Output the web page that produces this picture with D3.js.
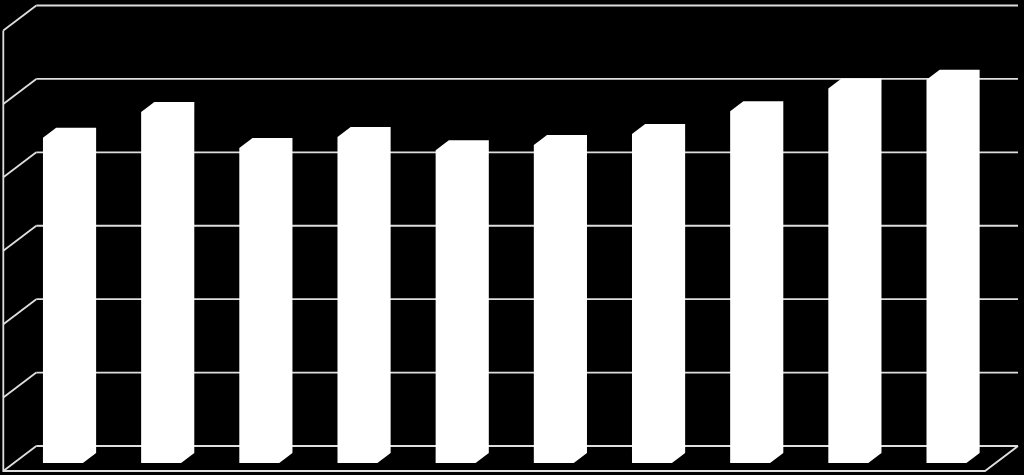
<!DOCTYPE html>
<html>
<head>
<meta charset="utf-8">
<script src="https://cdn.jsdelivr.net/npm/d3@7"></script>
<style>
  html, body { margin: 0; padding: 0; background: #000; }
  svg { display: block; }
</style>
</head>
<body>
<svg id="chart"></svg>
<script>
// chart data (no labels are shown in the picture)
const categories = ["1", "2", "3", "4", "5", "6", "7", "8", "9", "10"];
const values = [4.43, 4.78, 4.29, 4.44, 4.26, 4.33, 4.48, 4.79, 5.10, 5.22];
const ticks = [0, 1, 2, 3, 4, 5, 6];

const width = 1024, height = 475;
const depthX = 33, depthY = 25;        // offset from the front plane to the back wall
const barFront = 0.68, barBack = 0.28; // depth of the bar (0 = back wall, 1 = front)
const lineColor = "#dedede";

const svg = d3.select("#chart")
    .attr("width", width)
    .attr("height", height);

// x in the front plane, y on the back wall
const x = d3.scaleBand()
    .domain(categories)
    .range([3.3, 985])
    .paddingInner(0.593)
    .paddingOuter(0.2965);

const y = d3.scaleLinear()
    .domain([0, 6])
    .range([446, 5.5]);

// project a point (front-plane x, value, depth) to screen
function proj(xf, v, z) {
  return [xf + (1 - z) * depthX, y(v) + z * depthY];
}

const line = d3.line();

const grid = svg.append("g")
    .attr("fill", "none")
    .attr("stroke", lineColor)
    .attr("stroke-width", 1.8);

// back wall gridlines
grid.selectAll(".back")
  .data(ticks)
  .join("path")
    .attr("d", d => line([proj(x.range()[0], d, 0), proj(x.range()[1], d, 0)]));

// side wall diagonals
grid.selectAll(".side")
  .data(ticks)
  .join("path")
    .attr("d", d => line([proj(x.range()[0], d, 1), proj(x.range()[0], d, 0)]));

// left front axis, floor front edge and right floor edge
const x0 = x.range()[0], x1 = x.range()[1];
grid.append("path")
    .attr("d", line([proj(x0, ticks[ticks.length - 1], 1), proj(x0, 0, 1), proj(x1, 0, 1), proj(x1, 0, 0)]));

// bars: all faces are plain white, so draw the outline of the box in one shape
svg.append("g")
  .selectAll("path")
  .data(values)
  .join("path")
    .attr("fill", "#fff")
    .attr("d", (v, i) => {
      const l = x(categories[i]), r = l + x.bandwidth();
      return line([
        proj(l, 0, barFront), proj(r, 0, barFront), proj(r, 0, barBack),
        proj(r, v, barBack), proj(l, v, barBack), proj(l, v, barFront)
      ]) + "Z";
    });
</script>
</body>
</html>
